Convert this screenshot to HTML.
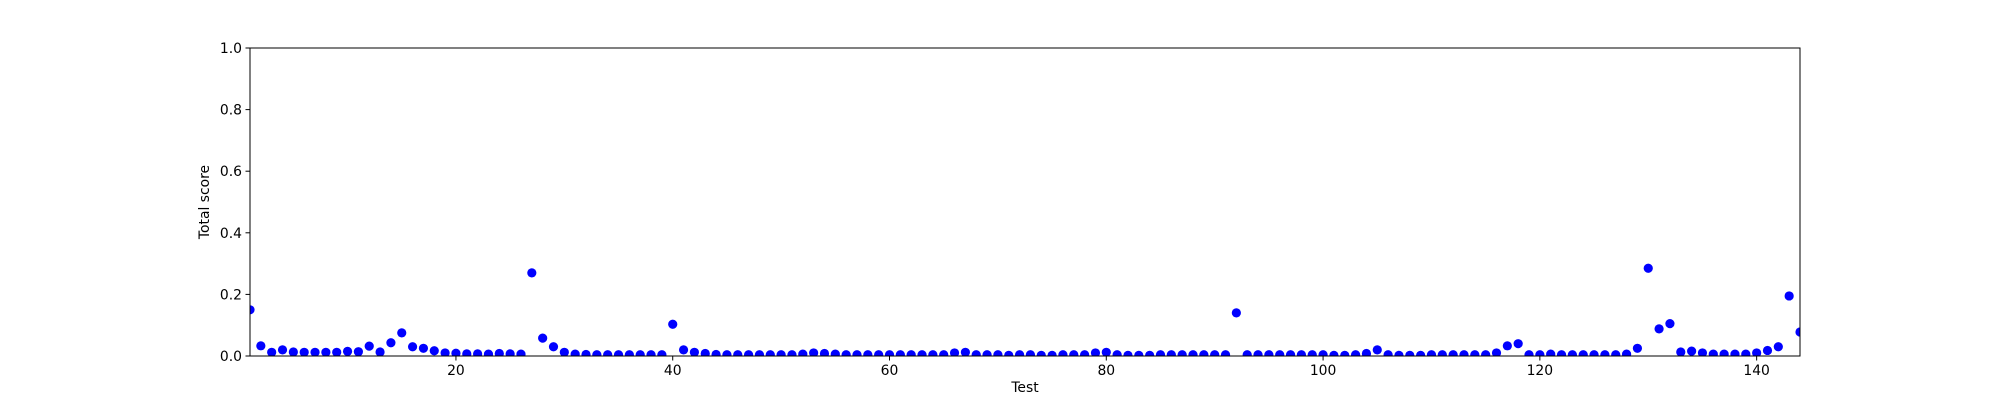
<!DOCTYPE html>
<html><head><meta charset="utf-8"><style>
body{margin:0;background:#fff}
svg{display:block;font-family:"DejaVu Sans","Liberation Sans",sans-serif}
</style></head><body>
<svg id="chart" width="2000" height="400" viewBox="0 0 2000 400" xmlns="http://www.w3.org/2000/svg">
<rect width="2000" height="400" fill="#fff"/>
<g id="marks"></g>
<g id="axes"></g>
</svg>
<script>
const scores = [0.15,0.033,0.012,0.02,0.013,0.012,0.012,0.012,0.012,0.015,0.014,0.032,0.013,0.043,0.075,0.03,0.025,0.017,0.01,0.009,
0.007,0.007,0.006,0.008,0.007,0.006,0.27,0.058,0.03,0.012,0.006,0.005,0.004,0.004,0.004,0.004,0.004,0.004,0.004,0.103,
0.02,0.012,0.008,0.005,0.004,0.004,0.004,0.004,0.004,0.004,0.004,0.006,0.01,0.008,0.006,0.004,0.004,0.004,0.004,0.004,
0.004,0.004,0.004,0.004,0.004,0.01,0.012,0.004,0.004,0.004,0.002,0.004,0.004,0.002,0.002,0.004,0.004,0.004,0.01,0.012,
0.004,0.002,0.002,0.002,0.004,0.004,0.004,0.004,0.004,0.004,0.004,0.14,0.004,0.004,0.004,0.004,0.004,0.004,0.004,0.004,
0.002,0.002,0.004,0.008,0.02,0.004,0.002,0.002,0.002,0.004,0.004,0.004,0.004,0.004,0.004,0.01,0.033,0.04,0.004,0.004,
0.006,0.004,0.004,0.004,0.004,0.004,0.004,0.006,0.025,0.285,0.088,0.105,0.013,0.016,0.01,0.006,0.006,0.006,0.006,0.01,
0.018,0.03,0.195,0.078];
const xTicks = [20,40,60,80,100,120,140];
const yTicks = [0,0.2,0.4,0.6,0.8,1.0];
const yTickLabels = ["0.0","0.2","0.4","0.6","0.8","1.0"];

const L=250,R=1800,T=48,B=356;
const xMin=1,xMax=144;
const xs=v=>L+(v-xMin)/(xMax-xMin)*(R-L);
const ys=v=>B-v*(B-T);
const NS="http://www.w3.org/2000/svg";
const marks=document.getElementById('marks');
const axes=document.getElementById('axes');
function mk(tag,attrs,parent){const e=document.createElementNS(NS,tag);for(const k in attrs)e.setAttribute(k,attrs[k]);parent.appendChild(e);return e;}

const defs=mk('defs',{},document.getElementById('chart'));
const cp=mk('clipPath',{id:'clip'},defs);
mk('rect',{x:L,y:T,width:R-L,height:B-T},cp);
marks.setAttribute('clip-path','url(#clip)');

scores.forEach((v,i)=>{
  const c=mk('circle',{cx:xs(i+1),cy:ys(v),r:4.6,fill:'#0000ff'},marks);
  
  
});

const frame=mk('rect',{x:L,y:T,width:R-L,height:B-T,fill:'none',stroke:'#000','stroke-width':1},axes);



xTicks.forEach(t=>{
  const x=xs(t);
  mk('line',{x1:x,x2:x,y1:B,y2:B+4.5,stroke:'#000','stroke-width':1},axes);
  const tx=mk('text',{x:x,y:B+19,'text-anchor':'middle','font-size':'13.9',fill:'#000'},axes);
  tx.textContent=t;
  
  
});
yTicks.forEach((t,i)=>{
  const y=ys(t);
  mk('line',{x1:L-4.5,x2:L,y1:y,y2:y,stroke:'#000','stroke-width':1},axes);
  const tx=mk('text',{x:L-8,y:y+5,'text-anchor':'end','font-size':'13.9',fill:'#000'},axes);
  tx.textContent=yTickLabels[i];
  
  
});
const xl=mk('text',{x:(L+R)/2,y:B+36,'text-anchor':'middle','font-size':'13.9',fill:'#000'},axes);
xl.textContent='Test';


const yl=mk('text',{x:0,y:0,'text-anchor':'middle','font-size':'13.9',fill:'#000',transform:`translate(209,${(T+B)/2}) rotate(-90)`},axes);
yl.textContent='Total score';


</script>
</body></html>
